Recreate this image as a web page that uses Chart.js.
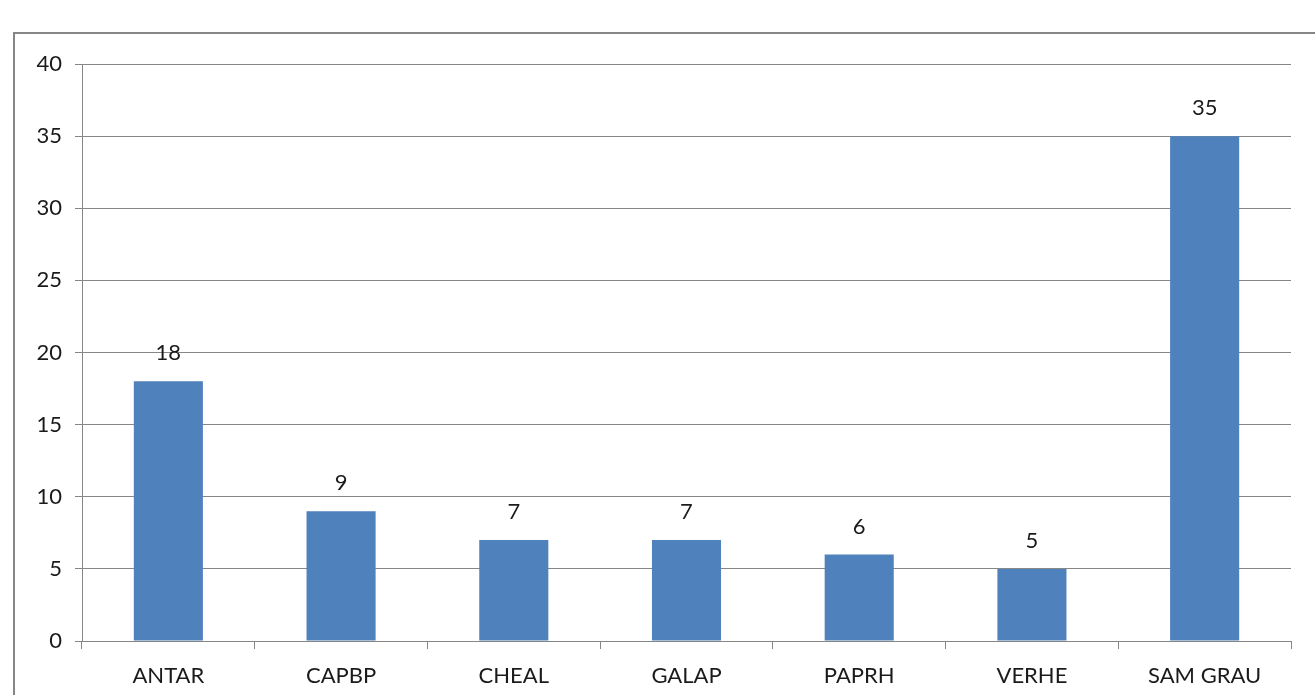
<!DOCTYPE html>
<html>
<head>
<meta charset="utf-8">
<script src="https://cdn.jsdelivr.net/npm/chart.js@4.4.1/dist/chart.umd.min.js"></script>
<style>
  html, body { margin: 0; padding: 0; background: #fff; overflow: hidden; }
  #wrap { position: absolute; left: 0; top: 0; width: 1315px; height: 695px; }
  #frame { position: absolute; left: 13px; top: 32px; width: 1400px; height: 800px;
           border-top: 2px solid #868686; border-left: 2px solid #868686; }
</style>
</head>
<body>
<div id="frame"></div>
<div id="wrap"><canvas id="myChart" width="1315" height="695"></canvas></div>
<script>
  const labels = ['ANTAR', 'CAPBP', 'CHEAL', 'GALAP', 'PAPRH', 'VERHE', 'SAM GRAU'];
  const valores = [18, 9, 7, 7, 6, 5, 35];
  const yTicks = [0, 5, 10, 15, 20, 25, 30, 35, 40];

  const fontFam = 'Lato, "Open Sans", sans-serif';

  // etiquetas encima de cada barra
  const barLabels = {
    id: 'barLabels',
    afterDatasetsDraw(chart) {
      const ctx = chart.ctx;
      const meta = chart.getDatasetMeta(0);
      ctx.save();
      ctx.font = '22px ' + fontFam;
      ctx.fillStyle = '#1a1a1a';
      ctx.textAlign = 'center';
      ctx.textBaseline = 'middle';
      meta.data.forEach((bar, i) => {
        ctx.fillText(String(valores[i]), bar.x, bar.y - 28);
      });
      ctx.restore();
    }
  };

  const data = {
    labels: labels,
    datasets: [{
      data: valores,
      backgroundColor: '#4F81BD',
      barPercentage: 0.4,
      categoryPercentage: 1.0
    }]
  };

  const config = {
    type: 'bar',
    data: data,
    options: {
      responsive: false,
      animation: false,
      layout: { padding: { top: 64, right: 24, left: 0, bottom: 0 } },
      plugins: { legend: { display: false }, tooltip: { enabled: false } },
      scales: {
        x: {
          grid: { display: true, offset: true, drawOnChartArea: false, color: '#868686', tickLength: 8 },
          border: { color: '#868686' },
          ticks: { color: '#1a1a1a', font: { family: fontFam, size: 22 }, padding: 14, maxRotation: 0 },
          afterFit(scale) { scale.height = 54; }
        },
        y: {
          min: 0,
          max: 40,
          afterBuildTicks(scale) { scale.ticks = yTicks.map(v => ({ value: v })); },
          grid: { color: '#868686', tickLength: 7 },
          border: { color: '#868686' },
          ticks: { color: '#1a1a1a', font: { family: fontFam, size: 22 }, padding: 13 },
          afterFit(scale) { scale.width = 82; }
        }
      }
    },
    plugins: [barLabels]
  };

  const myChart = new Chart(document.getElementById('myChart'), config);
</script>
</body>
</html>
